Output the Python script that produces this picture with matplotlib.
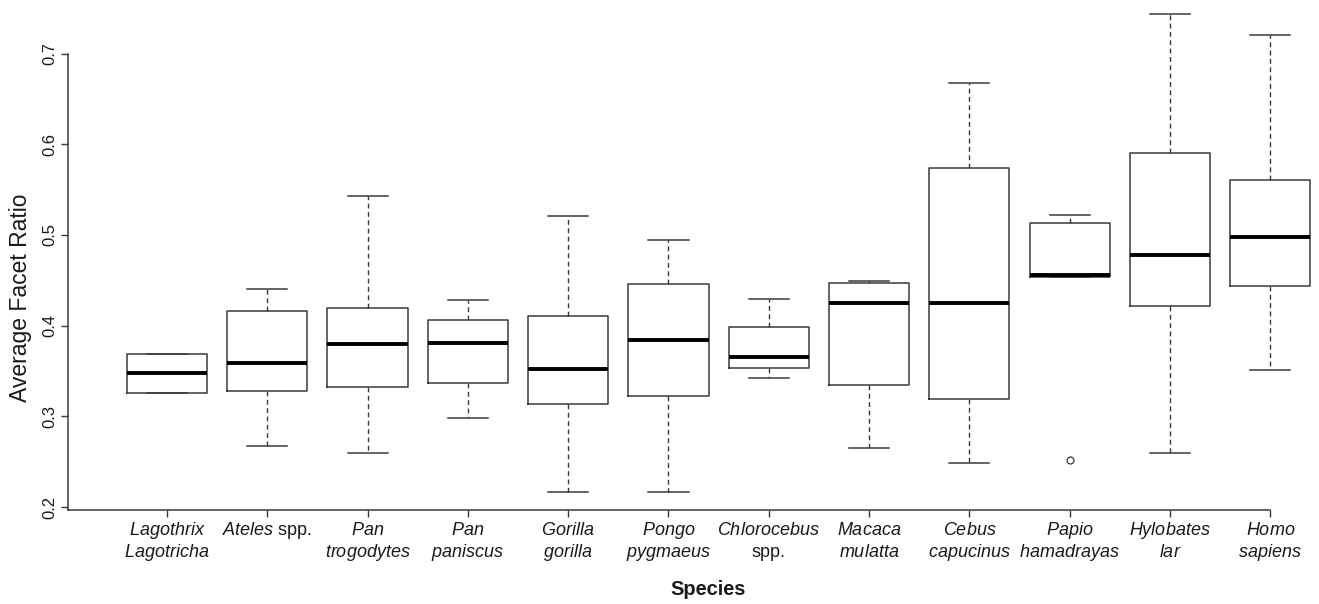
import matplotlib.pyplot as plt
import numpy as np

plt.rcParams['font.family'] = 'Liberation Sans'
plt.rcParams['mathtext.fontset'] = 'custom'
plt.rcParams['mathtext.rm'] = 'Liberation Sans'
plt.rcParams['mathtext.it'] = 'Liberation Sans:italic'

# species labels: first and second line (italic names, roman "spp.")
label_top = [r"$\mathit{Lagothrix}$", r"$\mathit{Ateles}$ spp.", r"$\mathit{Pan}$", r"$\mathit{Pan}$",
             r"$\mathit{Gorilla}$", r"$\mathit{Pongo}$", r"$\mathit{Chlorocebus}$", r"$\mathit{Macaca}$",
             r"$\mathit{Cebus}$", r"$\mathit{Papio}$", r"$\mathit{Hylobates}$", r"$\mathit{Homo}$"]
label_bottom = [r"$\mathit{Lagotricha}$", "", r"$\mathit{trogodytes}$", r"$\mathit{paniscus}$",
                r"$\mathit{gorilla}$", r"$\mathit{pygmaeus}$", "spp.", r"$\mathit{mulatta}$",
                r"$\mathit{capucinus}$", r"$\mathit{hamadrayas}$", r"$\mathit{lar}$", r"$\mathit{sapiens}$"]

whis_lo = [0.3257, 0.2669, 0.2595, 0.2983, 0.2170, 0.2170, 0.3419, 0.2647, 0.2482, 0.4536, 0.2595, 0.3507]
q1      = [0.3257, 0.3279, 0.3327, 0.3372, 0.3132, 0.3220, 0.3533, 0.3342, 0.3195, 0.4536, 0.4216, 0.4441]
median  = [0.3474, 0.3588, 0.3797, 0.3808, 0.3521, 0.3846, 0.3658, 0.4249, 0.4246, 0.4558, 0.4783, 0.4974]
q3      = [0.3690, 0.4158, 0.4194, 0.4062, 0.4110, 0.4459, 0.3981, 0.4466, 0.5738, 0.5136, 0.5900, 0.5605]
whis_hi = [0.3690, 0.4404, 0.5434, 0.4279, 0.5213, 0.4944, 0.4290, 0.4492, 0.6671, 0.5219, 0.7432, 0.7199]
outliers = [[], [], [], [], [], [], [], [], [], [0.2518], [], []]

y_ticks = [0.2, 0.3, 0.4, 0.5, 0.6, 0.7]

W, H = 1319, 604
AX_H = 510
fig = plt.figure(figsize=(W / 100, H / 100), dpi=100)
ax = fig.add_axes([68 / W, 1 - AX_H / H, (W - 68) / W, AX_H / H])

positions = np.arange(1, len(label_top) + 1)
stats = []
for i in range(len(label_top)):
    stats.append(dict(whislo=whis_lo[i], q1=q1[i], med=median[i], q3=q3[i],
                      whishi=whis_hi[i], fliers=outliers[i]))

line_col = '#3a3a3a'
ax.bxp(stats, positions=positions, widths=0.8, capwidths=0.4,
       boxprops=dict(color=line_col, lw=1.1),
       whiskerprops=dict(color=line_col, lw=1.0, linestyle=(0, (3.5, 2.5))),
       capprops=dict(color=line_col, lw=1.1),
       medianprops=dict(color='black', lw=2.8, solid_capstyle='butt'),
       flierprops=dict(marker='o', markerfacecolor='none', markeredgecolor=line_col,
                       markersize=5, markeredgewidth=0.9))

ax.set_xlim(0.013, 12.486)
ax.set_ylim(0.1967, 0.759)

ax.spines['top'].set_visible(False)
ax.spines['right'].set_visible(False)
for s in ('left', 'bottom'):
    ax.spines[s].set_color(line_col)
    ax.spines[s].set_linewidth(1.1)
ax.spines['left'].set_bounds(0.1967, 0.7)
ax.spines['bottom'].set_bounds(0.013, 12)

ax.set_yticks(y_ticks)
ax.set_yticklabels([f"{v:.1f}" for v in y_ticks])
ax.tick_params(axis='y', length=4.8, width=1.0, color=line_col, pad=3,
               labelsize=12, labelrotation=90, labelcolor='#1a1a1a')
for lbl in ax.get_yticklabels():
    lbl.set_va('center')

ax.set_xticks(positions)
ax.set_xticklabels([''] * len(positions))
ax.tick_params(axis='x', length=4.8, width=1.0, color=line_col)

# two-line species labels at fixed baselines (pixels from figure top)
trans = ax.get_xaxis_transform()
base1 = (AX_H - 535) / AX_H
base2 = (AX_H - 556.7) / AX_H
for x, t, b in zip(positions, label_top, label_bottom):
    ax.text(x, base1, t, transform=trans, ha='center', va='baseline',
            fontsize=13, color='#1a1a1a', clip_on=False)
    if b:
        ax.text(x, base2, b, transform=trans, ha='center', va='baseline',
                fontsize=13, color='#1a1a1a', clip_on=False)

fig.text(21 / W, 1 - 298 / H, "Average Facet Ratio", rotation=90, ha='center', va='center',
         fontsize=16.5, color='#1a1a1a')
fig.text(708 / W, 1 - 595 / H, "Species", ha='center', va='baseline',
         fontsize=14.4, fontweight='bold', color='#1a1a1a')

fig.savefig('out.png', dpi=100)
